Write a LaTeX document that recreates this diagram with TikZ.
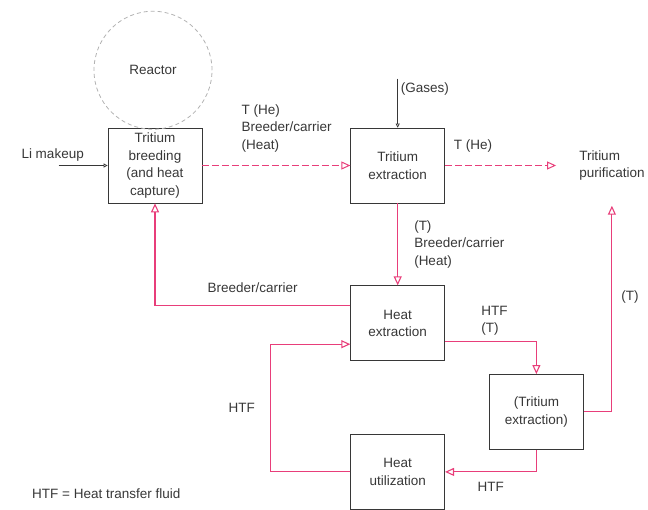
\documentclass[tikz,border=0pt]{standalone}
\usepackage{fontspec}
\setmainfont{Liberation Sans}
\usepackage{tikz}
\usetikzlibrary{arrows.meta, positioning, calc}
\definecolor{flowpink}{RGB}{232,62,122}
\definecolor{inkgray}{RGB}{55,55,55}

\begin{document}
\begin{tikzpicture}[
    x=1pt, y=-1pt,
    font=\fontsize{13.5}{17.5}\selectfont,
    box/.style     = {rectangle, draw=inkgray, line width=0.7pt, text=inkgray,
                      minimum width=94pt, minimum height=75pt, align=center, inner sep=2pt},
    reactor/.style = {circle, draw=gray!60, dash pattern=on 4pt off 3pt, line width=0.8pt,
                      minimum size=118pt, text=inkgray},
    flow/.style    = {-{Triangle[open,length=9pt,width=8pt]}, line width=1.1pt, color=flowpink},
    flowd/.style   = {flow, dash pattern=on 7pt off 3pt, line width=1pt},
    feed/.style    = {-{Triangle[open,length=4pt,width=4pt]}, line width=0.7pt, color=inkgray},
    lab/.style     = {align=left, inner sep=1pt, text=inkgray},
]
\useasboundingbox (0,0) rectangle (648,509);

% ---- top row ----
\node[box]     (breed) at (155,165.5)         {Tritium\\breeding\\(and heat\\capture)};
\node[reactor] (reac)  [above=-2pt of breed, xshift=-2pt] {Reactor};
\node[box]     (textr) [right=148pt of breed] {Tritium\\extraction};
\node[lab]     (pur)   [right=133pt of textr] {Tritium\\purification};

% ---- heat side ----
\node[box] (heatx) [below=82pt of textr]                {Heat\\extraction};
\node[box] (trx2)  [below right=13pt and 44pt of heatx] {(Tritium\\extraction)};
\node[box] (heatu) [below=73pt of heatx]                {Heat\\utilization};

% ---- feeds ----
\coordinate[left=49pt of breed]  (li);
\coordinate[above=49pt of textr] (gas);
\draw[feed] (li)  -- (breed);
\draw[feed] (gas) -- (textr);
\node[lab] (lilab)  [above=3pt of li, xshift=-6pt]    {Li makeup};
\node[lab] (gaslab) [below right=3pt and 2pt of gas] {(Gases)};

% ---- tritium path ----
\draw[flowd] (breed) -- node[lab,above=12pt,pos=.57] {T (He)\\Breeder/carrier\\(Heat)} (textr);
\draw[flowd, shorten >=22pt] (textr) -- node[lab,above=12pt,pos=.21] {T (He)} (pur);
\draw[flow]  (textr) -- node[lab,right=15pt] {(T)\\Breeder/carrier\\(Heat)} (heatx);
\draw[flow, shorten >=24pt] (trx2) -| node[lab,right=8pt,pos=.75] {(T)} (pur);

% ---- breeder and HTF loops ----
\draw[flow] ([yshift=18pt]heatx.west) -| node[lab,above=11pt,pos=.25] {Breeder/carrier} (breed);
\draw[flow] ([yshift=-18pt]heatx.east) -| node[lab,above=4pt,pos=.27] {HTF\\(T)} (trx2);
\draw[flow] (trx2) |- node[lab,below=9pt,pos=.75] {HTF} (heatu);
\draw[flow] (heatu.west) -- ++(-80,0) |- node[lab,left=14pt,pos=.25] {HTF} ([yshift=-21pt]heatx.west);

% ---- legend ----
\node[lab, anchor=west] (legend) at (31,494) {HTF = Heat transfer fluid};

\end{tikzpicture}
\end{document}
